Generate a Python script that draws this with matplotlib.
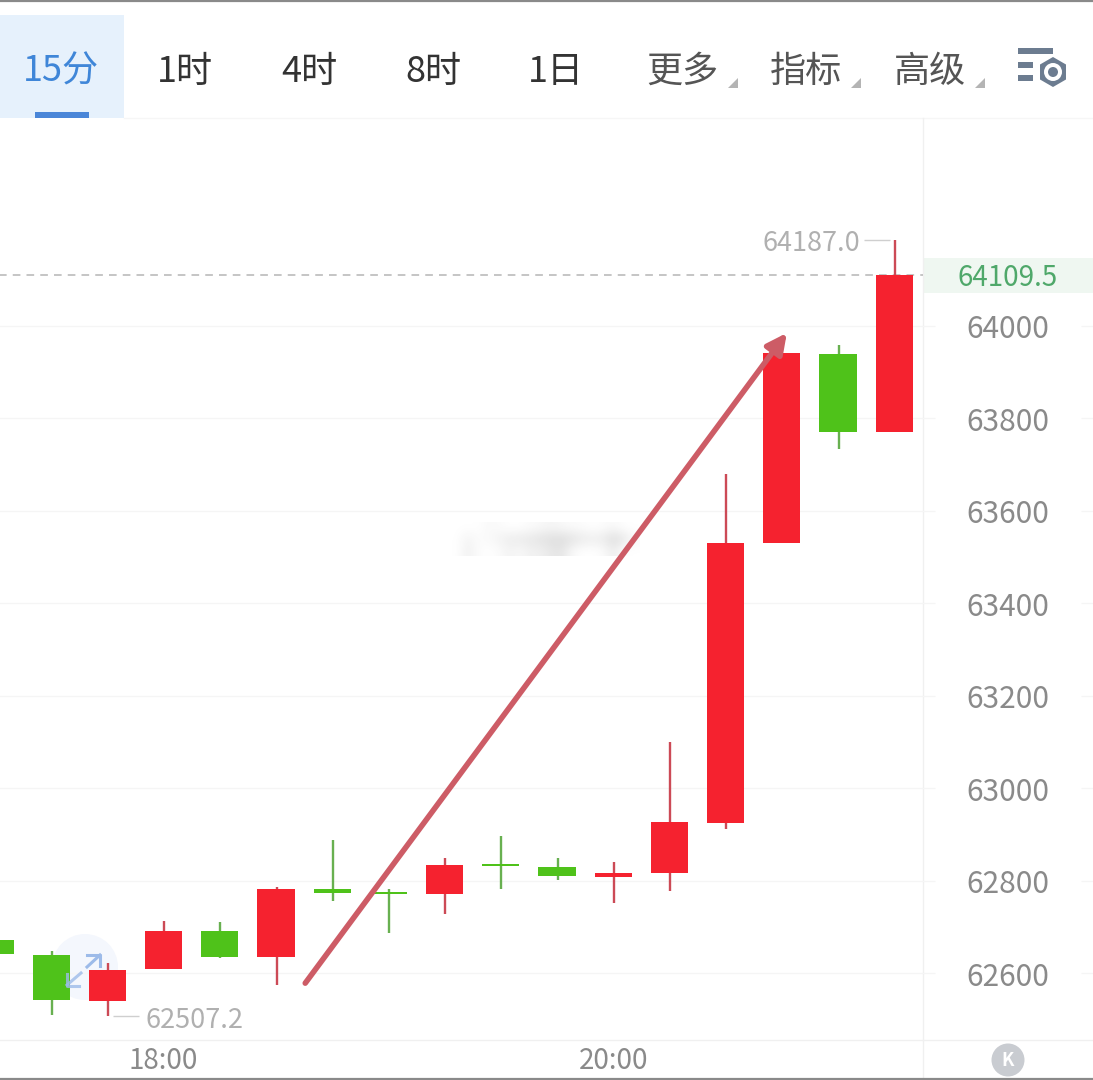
import numpy as np
import matplotlib.pyplot as plt
from matplotlib.patches import Rectangle, Circle, RegularPolygon, Polygon

plt.rcParams['font.family'] = ['Noto Sans CJK SC', 'DejaVu Sans']

# candles, left to right (index 0 is cut off by the left edge)
opens = [62641, 62639, 62539, 62609, 62691, 62635, 62782, 62775, 62771, 62836, 62829, 62808, 62816, 62925, 63530, 63939, 63771]
closes = [62671, 62542, 62607, 62691, 62635, 62782, 62773, 62771, 62834, 62832, 62810, 62816, 62927, 63530, 63942, 63771, 64109.5]
highs = [62671, 62648, 62622, 62713, 62710, 62786, 62888, 62782, 62849, 62896, 62849, 62840, 63100, 63680, 63942, 63959, 64187]
lows = [62641, 62509, 62507.2, 62609, 62632, 62574, 62756, 62687, 62728, 62782, 62801, 62751, 62777, 62912, 63530, 63734, 63771]
is_red = [0, 0, 1, 1, 0, 1, 0, 0, 1, 0, 0, 1, 1, 1, 1, 0, 1]

price_ticks = [62600, 62800, 63000, 63200, 63400, 63600, 63800, 64000]
time_ticks = [3, 11]
time_labels = ["18:00", "20:00"]
last_price = 64109.5
top_price = 64187.0
low_price = 62507.2

tabs = ["15分", "1时", "4时", "8时", "1日", "更多", "指标", "高级"]
tab_x = [61, 185, 309, 433, 556, 682, 806, 930]
tab_colors = ["#3f86d8", "#333333", "#333333", "#333333", "#333333", "#555555", "#555555", "#555555"]

RED = "#f5222f"
GREEN = "#4fc21a"
RED_WICK = "#cc4a56"
GREEN_WICK = "#68b050"
STEP = 56.2  # pixels per candle
Y_PX = 200 / 92.43  # price per pixel

fig = plt.figure(figsize=(10.93, 10.80), dpi=100)

# pixel layer under the candles
bg = fig.add_axes([0, 0, 1, 1], zorder=0)
bg.set_xlim(0, 1093)
bg.set_ylim(1080, 0)
bg.axis("off")

bg.add_patch(Rectangle((0, 15), 124, 103, color="#e6f1fc", lw=0))
bg.add_patch(Rectangle((35, 112), 54, 6, color="#4a86d8", lw=0))
bg.plot([124, 1093], [118, 118], color="#f6f6f6", lw=1)
bg.plot([923, 923], [118, 1080], color="#f0f0f0", lw=1)
bg.plot([0, 1093], [1040, 1040], color="#f0f0f0", lw=1)
bg.add_patch(Rectangle((923, 258), 170, 35, color="#eff7f1", lw=0))
bg.add_patch(Circle((85, 967), 33, color="#f4f7fd", lw=0))

# blurred watermark
smear = np.array([
    [0, 0, 0, .05, .03, 0, 0, .03, .05, .08, .05, .03, .02, 0, .02, .05, 0, 0],
    [0, .1, .03, .05, .1, .16, .18, .2, .25, .28, .3, .25, .18, .15, .18, .3, .2, .05],
    [0, .12, .03, 0, .03, .1, .05, .12, .12, .2, .22, .05, 0, 0, .03, .15, 0, 0],
])
rgba = np.zeros(smear.shape + (4,))
rgba[..., :3] = 0.55
rgba[..., 3] = smear
bg.imshow(rgba, extent=(452, 640, 556, 522), interpolation="bicubic", aspect="auto", zorder=2)
bg.set_xlim(0, 1093)
bg.set_ylim(1080, 0)

# chart
ax = fig.add_axes([0, 40 / 1080, 1, 922 / 1080], zorder=1)
ax.patch.set_alpha(0)
ax.set_xlim(5 / STEP, 1098 / STEP)
ax.set_ylim(64000 - 714 * Y_PX, 64000 + 208 * Y_PX)
for s in ax.spines.values():
    s.set_visible(False)
ax.set_yticks([])
ax.set_xticks(time_ticks, time_labels, fontsize=20, color="#8a8a8a")
ax.tick_params(axis="x", length=0, pad=4)

for p in price_ticks:
    ax.hlines(p, 0, 940 / STEP, color="#f5f5f5", lw=1, zorder=1)
    ax.hlines(p, 1086 / STEP, 1098 / STEP, color="#f5f5f5", lw=1, zorder=1)
    ax.text(1013 / STEP, p - 4 * Y_PX, str(p), fontsize=21.5, color="#8a8a8a", ha="center", va="center")

ax.hlines(last_price, 0, 928 / STEP, color="#b5b5b5", lw=1.1, linestyles=(0, (5, 4)), zorder=1)

x = np.arange(len(opens))
for i in x:
    body_bot = min(opens[i], closes[i])
    body_h = abs(closes[i] - opens[i])
    ax.vlines(i + 0.01, lows[i], highs[i], color=RED_WICK if is_red[i] else GREEN_WICK, lw=1.7, zorder=2)
    ax.bar(i, body_h, 0.66, bottom=body_bot, color=RED if is_red[i] else GREEN, lw=0, zorder=3)

# hand drawn arrow
ax.annotate("", xy=(14.09, 63985), xytext=(5.52, 62578),
            arrowprops=dict(arrowstyle="-|>,head_length=0.6,head_width=0.3", color="#cd5c66",
                            lw=4.0, mutation_scale=20, shrinkA=0, shrinkB=0, capstyle="round"),
            zorder=5)

# hi/lo labels and the last price
ax.text(768 / STEP, top_price - 4 * Y_PX, "%.1f" % top_price, fontsize=19.5, color="#b0b0b0", ha="left", va="center")
ax.hlines(top_price, 869 / STEP, 895 / STEP, color="#cfcfcf", lw=1, zorder=1)
ax.text(151 / STEP, low_price - 5 * Y_PX, "%.1f" % low_price, fontsize=19.5, color="#b0b0b0", ha="left", va="center")
ax.hlines(low_price, 118 / STEP, 144 / STEP, color="#cfcfcf", lw=1, zorder=1)
ax.text(1013 / STEP, last_price - 3 * Y_PX, "%.1f" % last_price, fontsize=20, color="#4fa86a", ha="center", va="center")

# pixel layer on top
top = fig.add_axes([0, 0, 1, 1], zorder=2)
top.patch.set_alpha(0)
top.set_xlim(0, 1093)
top.set_ylim(1080, 0)
top.axis("off")

top.plot([0, 1093], [0.8, 0.8], color="#8a8a8a", lw=1.6)
top.plot([0, 1093], [1079, 1079], color="#8a8a8a", lw=1.6)

for name, tx, c in zip(tabs, tab_x, tab_colors):
    top.text(tx, 72, name, fontsize=26, color=c, ha="center", va="center")
for tx in [728, 851, 975]:
    top.add_patch(Polygon([(tx + 10, 78), (tx + 10, 88), (tx, 88)], color="#b4b4b4", lw=0))

# settings icon
for bx, by, bw, bh in [(1018, 48, 35, 6), (1018, 62, 15, 6), (1018, 75, 15, 6)]:
    top.add_patch(Rectangle((bx, by), bw, bh, color="#6c7c90", lw=0))
top.add_patch(RegularPolygon((1053, 72), 6, radius=15, color="#6c7c90", lw=0))
top.add_patch(Circle((1053, 72), 9, color="white", lw=0))
top.add_patch(Circle((1053, 72), 5, color="#6c7c90", lw=0))

# expand arrows on the round button
arrow_c = "#9dbbe9"
top.plot([87, 100], [967, 955], color=arrow_c, lw=2.2)
top.plot([87, 100, 100], [955, 955, 966], color=arrow_c, lw=2.2)
top.plot([67, 81], [985, 973], color=arrow_c, lw=2.2, alpha=0.8)
top.plot([67, 67, 79], [974, 986, 986], color=arrow_c, lw=2.2, alpha=0.8)

# K button
top.add_patch(Circle((1008, 1060), 16.5, color="#c9ccd1", lw=0))
top.text(1008, 1060, "K", fontsize=13, color="white", ha="center", va="center", fontweight="bold")

fig.savefig("out.png", dpi=100)
